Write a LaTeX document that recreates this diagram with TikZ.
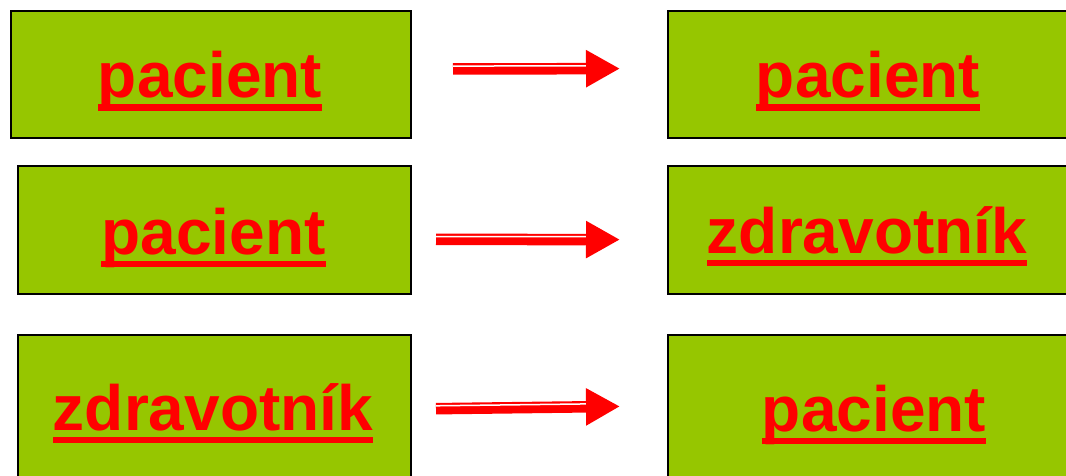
\documentclass[tikz,border=0pt]{standalone}
\usepackage{fontspec}
\setmainfont{Liberation Sans}
\usetikzlibrary{arrows.meta,calc}
\definecolor{boxgreen}{RGB}{150,198,0}
\definecolor{lblred}{RGB}{255,0,0}
\tikzset{
  box/.style={draw=black, fill=boxgreen, line width=2.4pt, inner sep=0pt, anchor=north west},
  lbl/.style={text=lblred, font=\fontsize{64}{70}\selectfont\bfseries, inner sep=0pt, anchor=base},
  shaft/.style={draw=lblred, line width=11.5pt, -{Triangle[length=34pt,width=35pt]}},
  gap/.style={draw=white, line width=1.5pt},
}
% thick underline bar beneath a label node
\newcommand{\ul}[1]{\fill[lblred] ([yshift=-6.5pt]#1.base west) rectangle ([yshift=-13pt]#1.base east);}
% white stripe along the upper part of an arrow shaft
\newcommand{\stripe}[3]{\draw[gap] ($(#1)+(0,-2.9)$) -- ($(#1)!#3!(#2)+(0,-2.9)$);}
\begin{document}
\begin{tikzpicture}[x=1pt,y=-1pt]
\useasboundingbox (0,0) rectangle (1066,476);
\begin{scope}
\clip (0,0) rectangle (1066,476);
% boxes, left column
\node[box, minimum width=400pt, minimum height=127pt] (b1l) at (10,10) {};
\node[box, minimum width=393pt, minimum height=128pt] (b2l) at (17,165) {};
\node[box, minimum width=393pt, minimum height=160pt] (b3l) at (17,334) {};
% boxes, right column
\node[box, minimum width=410pt, minimum height=127pt] (b1r) at (667,10) {};
\node[box, minimum width=410pt, minimum height=128pt] (b2r) at (667,165) {};
\node[box, minimum width=410pt, minimum height=160pt] (b3r) at (667,334) {};
\end{scope}
% labels
\node[lbl] (t1l) at (210,98) {pacient};
\node[lbl] (t2l) at (213.5,254) {pacient};
\node[lbl] (t3l) at (213,430) {zdravotník};
\node[lbl] (t1r) at (868,98) {pacient};
\node[lbl] (t2r) at (867,253) {zdravotník};
\node[lbl] (t3r) at (874,431) {pacient};
\ul{t1l}\ul{t2l}\ul{t3l}\ul{t1r}\ul{t2r}\ul{t3r}
% arrows
\coordinate (a1s) at (453,69);    \coordinate (a1e) at (620,68.6);
\coordinate (a2s) at (436,239.4); \coordinate (a2e) at (620,239.6);
\coordinate (a3s) at (436,408.7); \coordinate (a3e) at (620,406.4);
\draw[shaft] (a1s) -- (a1e);
\draw[shaft] (a2s) -- (a2e);
\draw[shaft] (a3s) -- (a3e);
\stripe{a1s}{a1e}{0.796}
\stripe{a2s}{a2e}{0.815}
\stripe{a3s}{a3e}{0.815}
\end{tikzpicture}
\end{document}
